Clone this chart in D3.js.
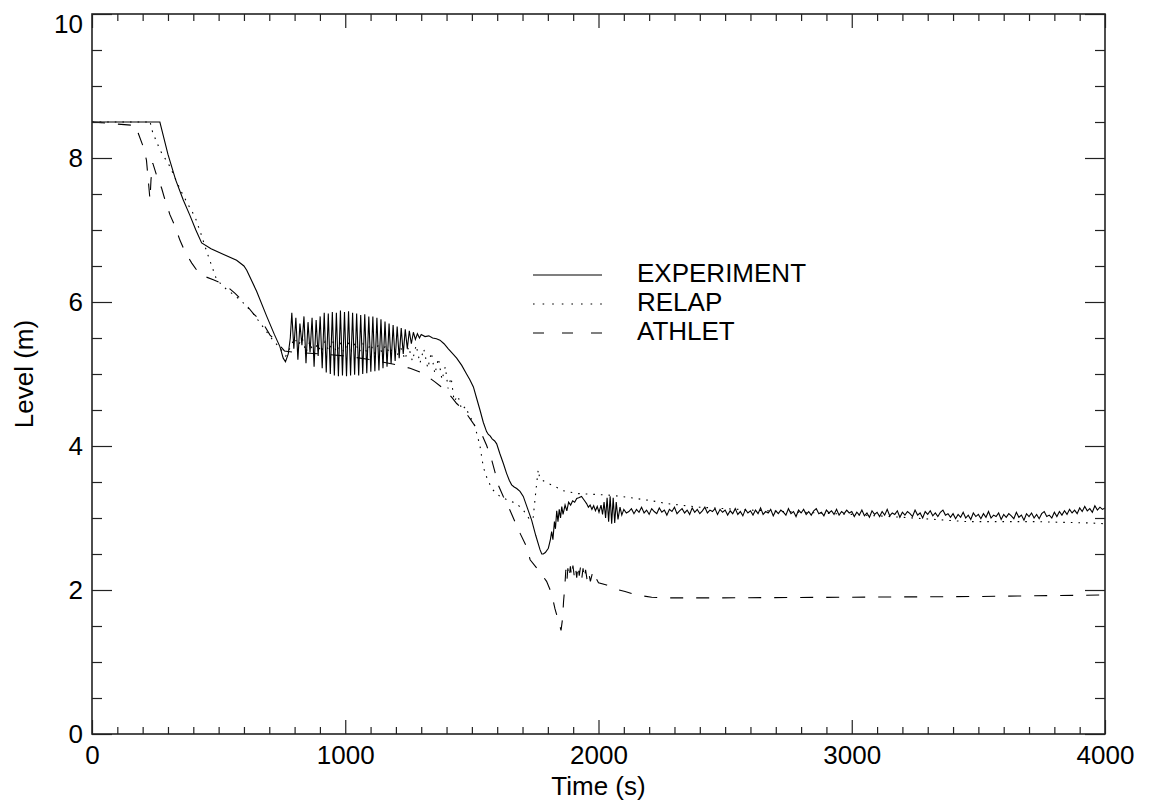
<!DOCTYPE html>
<html>
<head>
<meta charset="utf-8">
<script src="https://cdn.jsdelivr.net/npm/d3@7"></script>
<style>
  html, body { margin: 0; padding: 0; background: #fff; }
  svg text { font-family: "Liberation Sans", Arial, Helvetica, sans-serif; fill: #000; }
</style>
</head>
<body>
<div id="chart"></div>
<script>
// ---- data: [time (s), level (m)] ----
const experiment = [
  [0, 8.5], [268, 8.5], [300, 8.05], [330, 7.7], [360, 7.42], [387, 7.2], [410, 7.0], [433, 6.82],
  [470, 6.74], [520, 6.66], [571, 6.58], [600, 6.5], [611, 6.44], [650, 6.15], [690, 5.8], [720, 5.55],
  [742, 5.38], [755, 5.22], [764, 5.17], [775, 5.28], [783, 5.5], [789, 5.85], [797, 5.35], [805, 5.78],
  [813, 5.2], [821, 5.7], [829, 5.4], [837, 5.8], [845, 5.15], [853, 5.72], [861, 5.3], [869, 5.78],
  [877, 5.1], [885, 5.75], [893, 5.25], [901, 5.8], [909, 5.08], [917, 5.85], [925, 5.02], [933, 5.84],
  [941, 5.0], [949, 5.86], [957, 4.98], [965, 5.85], [973, 4.97], [981, 5.88], [989, 4.98], [997, 5.86],
  [1005, 4.97], [1013, 5.87], [1021, 4.98], [1029, 5.85], [1037, 4.99], [1045, 5.84], [1053, 4.98],
  [1061, 5.82], [1069, 5.0], [1077, 5.83], [1085, 5.01], [1093, 5.8], [1101, 5.03], [1109, 5.8],
  [1117, 5.04], [1125, 5.78], [1133, 5.05], [1141, 5.76], [1149, 5.08], [1157, 5.73], [1165, 5.1],
  [1173, 5.7], [1181, 5.14], [1189, 5.68], [1197, 5.18], [1205, 5.66], [1213, 5.22], [1221, 5.64],
  [1229, 5.28], [1237, 5.62], [1245, 5.35], [1253, 5.6], [1261, 5.42], [1269, 5.58], [1277, 5.48],
  [1285, 5.56], [1293, 5.5], [1300, 5.55], [1315, 5.52], [1330, 5.53], [1345, 5.5], [1360, 5.49],
  [1374, 5.47], [1390, 5.42], [1407, 5.35], [1425, 5.28], [1440, 5.22], [1460, 5.12], [1479, 5.0],
  [1492, 4.92], [1506, 4.82], [1519, 4.66], [1532, 4.5], [1545, 4.33], [1558, 4.2], [1565, 4.16],
  [1572, 4.14], [1580, 4.1], [1590, 4.07], [1598, 4.03], [1610, 3.9], [1625, 3.75], [1637, 3.62],
  [1648, 3.52], [1657, 3.46], [1667, 3.43], [1677, 3.41], [1690, 3.37], [1703, 3.3], [1720, 3.13],
  [1736, 2.97], [1752, 2.76], [1769, 2.56], [1776, 2.5], [1782, 2.5], [1790, 2.52], [1802, 2.58],
  [1810, 2.7], [1815, 2.81], [1820, 2.7], [1826, 2.95], [1830, 2.85], [1835, 3.1], [1840, 2.95],
  [1845, 3.12], [1850, 3.0], [1855, 3.16], [1860, 3.05], [1868, 3.18], [1875, 3.1], [1882, 3.22],
  [1890, 3.18], [1898, 3.24], [1906, 3.22], [1914, 3.27], [1922, 3.28], [1933, 3.3], [1943, 3.25],
  [1953, 3.2], [1960, 3.15], [1967, 3.18], [1974, 3.12], [1981, 3.17], [1988, 3.1], [1995, 3.16],
  [2002, 3.08], [2010, 3.18], [2016, 3.05], [2022, 3.22], [2028, 3.0], [2034, 3.28], [2040, 2.95],
  [2046, 3.3], [2052, 2.92], [2058, 3.28], [2064, 2.93], [2070, 3.22], [2077, 2.98], [2085, 3.15],
  [2092, 3.04], [2100, 3.12], [2110, 3.07], [2120, 3.09]
];

// experiment after 2130 s, recorded every 10 s
const expTailStart = 2130;
const expTailStep = 10;
const expTail = [
  3.13, 3.06, 3.12, 3.08, 3.15, 3.07, 3.11, 3.05, 3.13, 3.09, 3.06, 3.14, 3.08, 3.11, 3.04, 3.12,
  3.09, 3.15, 3.06, 3.10, 3.13, 3.07, 3.11, 3.05, 3.14, 3.08, 3.12, 3.06, 3.10, 3.15, 3.07, 3.11,
  3.09, 3.13, 3.05, 3.12, 3.08,
  3.11, 3.04, 3.10, 3.06, 3.13, 3.05, 3.09, 3.03, 3.12, 3.07, 3.10, 3.04, 3.11, 3.06, 3.14, 3.05,
  3.09, 3.07, 3.12, 3.03, 3.10, 3.06, 3.11, 3.08, 3.04, 3.13, 3.06, 3.09, 3.02, 3.11, 3.07, 3.12,
  3.05, 3.09, 3.04, 3.10, 3.13, 3.06, 3.08, 3.03, 3.11, 3.07, 3.10, 3.05, 3.12, 3.04, 3.09, 3.06,
  3.11, 3.07,
  3.09, 3.02, 3.08, 3.04, 3.11, 3.03, 3.07, 3.01, 3.10, 3.05, 3.08, 3.02, 3.09, 3.04, 3.12, 3.03,
  3.07, 3.05, 3.10, 3.01, 3.08, 3.04, 3.09, 3.06, 3.02, 3.11, 3.04, 3.07, 3.00, 3.09, 3.05, 3.10,
  3.03, 3.07, 3.02, 3.08, 3.11, 3.04, 3.06, 3.01,
  3.06, 2.99, 3.05, 3.01, 3.08, 3.00, 3.04, 2.98, 3.07, 3.02, 3.05, 2.99, 3.06, 3.01, 3.09, 3.00,
  3.04, 3.02, 3.07, 2.98, 3.05, 3.01, 3.06, 3.03, 2.99, 3.08, 3.01, 3.04, 2.97, 3.06, 3.02, 3.07,
  3.00, 3.05, 2.99, 3.06, 3.09, 3.02, 3.04, 3.00,
  3.08, 3.02, 3.09, 3.04, 3.10, 3.05, 3.12, 3.07, 3.11, 3.06, 3.14, 3.09, 3.16, 3.10, 3.13, 3.08,
  3.17, 3.11, 3.15, 3.12
];
const expEnd = [4000, 3.14];

const relap = [
  [0, 8.5], [220, 8.5], [228, 8.52], [240, 8.35], [270, 8.1], [308, 7.88], [350, 7.55], [380, 7.35],
  [407, 7.18], [430, 6.95], [453, 6.7], [492, 6.31], [530, 6.18], [571, 6.07], [600, 5.98], [636, 5.84],
  [670, 5.68], [703, 5.52], [742, 5.36], [765, 5.25], [780, 5.35], [800, 5.5], [815, 5.4], [830, 5.5],
  [845, 5.3], [860, 5.45], [875, 5.28], [890, 5.42], [905, 5.3], [920, 5.45], [935, 5.32], [950, 5.46],
  [965, 5.3], [980, 5.44], [995, 5.3], [1010, 5.45], [1025, 5.32], [1040, 5.44], [1055, 5.3],
  [1070, 5.42], [1085, 5.3], [1100, 5.42], [1115, 5.28], [1130, 5.4], [1145, 5.3], [1160, 5.4],
  [1175, 5.28], [1190, 5.38], [1205, 5.26], [1220, 5.36], [1236, 5.2], [1250, 5.38], [1265, 5.18],
  [1280, 5.4], [1295, 5.15], [1310, 5.35], [1326, 5.08], [1340, 5.3], [1354, 5.0], [1368, 5.22],
  [1382, 4.92], [1395, 5.1], [1406, 4.8], [1418, 4.95], [1430, 4.62], [1445, 4.7], [1460, 4.5],
  [1475, 4.55], [1492, 4.4], [1505, 4.35], [1519, 4.18], [1532, 4.0], [1545, 3.71], [1560, 3.55],
  [1580, 3.4], [1611, 3.3], [1640, 3.25], [1677, 3.2], [1705, 3.1], [1730, 2.97], [1742, 3.0],
  [1749, 3.25], [1755, 3.45], [1762, 3.67], [1768, 3.55], [1776, 3.53], [1790, 3.5], [1821, 3.45],
  [1860, 3.38], [1914, 3.34], [1970, 3.33], [2032, 3.32], [2090, 3.3], [2150, 3.27], [2210, 3.24],
  [2269, 3.2], [2400, 3.15], [2598, 3.11], [2800, 3.08], [3000, 3.05], [3200, 3.01], [3454, 2.95],
  [3716, 2.95], [3952, 2.93], [4000, 2.92]
];

const athlet = [
  [0, 8.5], [175, 8.45], [183, 8.34], [202, 8.16], [215, 7.97], [222, 7.7], [229, 7.42], [233, 7.7],
  [240, 7.93], [255, 7.76], [275, 7.58], [288, 7.42], [308, 7.21], [328, 7.05], [347, 6.86], [367, 6.7],
  [394, 6.54], [426, 6.38], [479, 6.31], [525, 6.24], [565, 6.12], [604, 5.98], [637, 5.84], [676, 5.7],
  [703, 5.54], [729, 5.45], [760, 5.32], [800, 5.3], [900, 5.28], [1000, 5.25], [1100, 5.2],
  [1200, 5.13], [1256, 5.08], [1308, 5.01], [1354, 4.89], [1394, 4.78], [1420, 4.68], [1440, 4.59],
  [1473, 4.48], [1506, 4.31], [1538, 4.17], [1558, 4.01], [1578, 3.81], [1591, 3.64], [1604, 3.46],
  [1624, 3.3], [1650, 3.11], [1670, 2.95], [1690, 2.79], [1716, 2.6], [1730, 2.42], [1762, 2.28],
  [1795, 2.12], [1815, 1.95], [1828, 1.74], [1841, 1.58], [1852, 1.44], [1858, 1.6], [1862, 1.84],
  [1867, 2.05], [1871, 2.28], [1875, 2.12], [1879, 2.3], [1884, 2.16], [1889, 2.33], [1894, 2.18],
  [1899, 2.34], [1904, 2.2], [1909, 2.32], [1914, 2.17], [1919, 2.35], [1924, 2.2], [1929, 2.32],
  [1934, 2.16], [1939, 2.3], [1944, 2.15], [1949, 2.28], [1955, 2.14], [1961, 2.25], [1968, 2.12],
  [1975, 2.22], [1983, 2.11], [1991, 2.16], [2000, 2.1], [2032, 2.07], [2058, 2.02], [2105, 1.98],
  [2150, 1.93], [2210, 1.9], [2262, 1.89], [2427, 1.89], [3000, 1.9], [3500, 1.91], [3980, 1.93],
  [4000, 1.93]
];

const seriesNames = ["EXPERIMENT", "RELAP", "ATHLET"];
const xMajorTicks = [0, 1000, 2000, 3000, 4000];
const yMajorTicks = [0, 2, 4, 6, 8, 10];

// ---- layout ----
const W = 1150, H = 807;
const plotL = 92, plotR = 1105, plotT = 14, plotB = 734;

const svg = d3.select("#chart").append("svg")
  .attr("width", W)
  .attr("height", H);

const x = d3.scaleLinear().domain([0, 4000]).range([plotL, plotR]);
const y = d3.scaleLinear().domain([0, 10]).range([plotB, plotT]);

const xMinor = d3.range(0, 4001, 100).filter(d => d % 1000 !== 0);
const yMinor = d3.range(0, 10.01, 0.5).filter(d => d % 2 !== 0);

// full experiment series
const expAll = experiment
  .concat(expTail.map((v, i) => [expTailStart + i * expTailStep, v]))
  .concat([expEnd]);

svg.append("defs").append("clipPath").attr("id", "plotclip")
  .append("rect")
  .attr("x", plotL).attr("y", plotT)
  .attr("width", plotR - plotL).attr("height", plotB - plotT);

const line = d3.line()
  .x(d => x(d[0]))
  .y(d => y(d[1]));

const styles = [
  { data: expAll, dash: null },
  { data: relap, dash: "1.6,6" },
  { data: athlet, dash: "13,13" }
];

const curves = svg.append("g").attr("clip-path", "url(#plotclip)");
styles.forEach(s => {
  curves.append("path")
    .datum(s.data)
    .attr("fill", "none")
    .attr("stroke", "#000")
    .attr("stroke-width", 1.1)
    .attr("stroke-dasharray", s.dash)
    .attr("d", line);
});

// axes
function styleAxis(g) {
  g.select(".domain").remove();
  g.selectAll(".tick line").attr("stroke", "#222").attr("stroke-width", 1.2);
  g.selectAll("text").attr("font-size", 26).attr("fill", "#000");
}

svg.append("g")
  .attr("transform", `translate(0,${plotB})`)
  .call(d3.axisBottom(x).tickValues(xMajorTicks).tickSize(-14).tickPadding(12).tickFormat(d3.format("d")))
  .call(styleAxis);
svg.append("g")
  .attr("transform", `translate(0,${plotB})`)
  .call(d3.axisBottom(x).tickValues(xMinor).tickSize(-7).tickFormat(""))
  .call(styleAxis);
svg.append("g")
  .attr("transform", `translate(0,${plotT})`)
  .call(d3.axisTop(x).tickValues(xMajorTicks).tickSize(-14).tickFormat(""))
  .call(styleAxis);
svg.append("g")
  .attr("transform", `translate(0,${plotT})`)
  .call(d3.axisTop(x).tickValues(xMinor).tickSize(-7).tickFormat(""))
  .call(styleAxis);

const yAxisG = svg.append("g")
  .attr("transform", `translate(${plotL},0)`)
  .call(d3.axisLeft(y).tickValues(yMajorTicks).tickSize(-20).tickPadding(9).tickFormat(d3.format("d")))
  .call(styleAxis);
// top label sits a little lower, as in the original
yAxisG.selectAll(".tick text").filter(d => d === 10).attr("dy", "0.72em");

svg.append("g")
  .attr("transform", `translate(${plotL},0)`)
  .call(d3.axisLeft(y).tickValues(yMinor).tickSize(-10).tickFormat(""))
  .call(styleAxis);
svg.append("g")
  .attr("transform", `translate(${plotR},0)`)
  .call(d3.axisRight(y).tickValues(yMajorTicks).tickSize(-20).tickFormat(""))
  .call(styleAxis);
svg.append("g")
  .attr("transform", `translate(${plotR},0)`)
  .call(d3.axisRight(y).tickValues(yMinor).tickSize(-10).tickFormat(""))
  .call(styleAxis);

// frame
svg.append("rect")
  .attr("x", plotL).attr("y", plotT)
  .attr("width", plotR - plotL).attr("height", plotB - plotT)
  .attr("fill", "none")
  .attr("stroke", "#222")
  .attr("stroke-width", 1.6);

// axis titles
svg.append("text")
  .attr("x", (plotL + plotR) / 2)
  .attr("y", 795)
  .attr("text-anchor", "middle")
  .attr("font-size", 26)
  .text("Time (s)");

svg.append("text")
  .attr("transform", `translate(33,${(plotT + plotB) / 2}) rotate(-90)`)
  .attr("text-anchor", "middle")
  .attr("font-size", 26)
  .text("Level (m)");

// legend
const legend = svg.append("g").attr("transform", "translate(533,275)");
seriesNames.forEach((name, i) => {
  const gy = i * 29;
  legend.append("line")
    .attr("x1", 0).attr("x2", 69)
    .attr("y1", gy).attr("y2", gy)
    .attr("stroke", "#000")
    .attr("stroke-width", 1.1)
    .attr("stroke-dasharray", i === 1 ? "1.6,8" : i === 2 ? "11,18" : null);
  legend.append("text")
    .attr("x", 104)
    .attr("y", gy + 7)
    .attr("font-size", 26)
    .text(name);
});
</script>
</body>
</html>
